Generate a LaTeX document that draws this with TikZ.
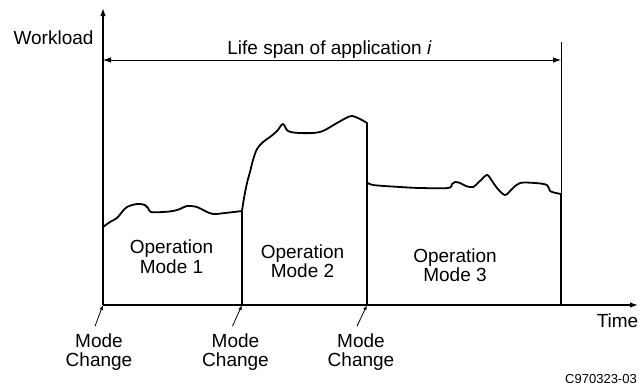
\documentclass[tikz,border=0pt]{standalone}
\usepackage{fontspec}
\setmainfont{Liberation Sans}
\usetikzlibrary{arrows.meta}

\begin{document}
\begin{tikzpicture}[
  x=1pt, y=-1pt,
  >={Latex[length=8pt, width=5.5pt]},
  axis/.style={->, line width=1.3pt},
  load/.style={line width=1.8pt, line join=round},
  span/.style={<->, line width=0.8pt},
  lbl/.style={font=\fontsize{19}{19.5}\selectfont, align=center, inner sep=0pt},
  tag/.style={-{Latex[length=5pt, width=3.5pt]}, line width=0.8pt},
]
\useasboundingbox (0,0) rectangle (639,388);

% Axes
\coordinate (o) at (103,305);
\coordinate (ytop) at (103,8);
\coordinate (xend) at (638,305);
\draw[axis] (o) -- (ytop);
\draw[axis] (o) -- (xend);

\node[lbl, anchor=base] (wl) at (53.5,44) {Workload};
\node[lbl, anchor=base east] (tm) at (638.5,327) {Time};

% =============================================
% Life span of the application
% =============================================
\coordinate (spanL) at (103,60);
\coordinate (spanR) at (561,60);
\coordinate (spanTop) at (561,42);
\coordinate (lend) at (561,194);
\draw[span] (spanL) -- (spanR);
\draw[line width=0.8pt] (spanTop) -- (lend);
\node[lbl, anchor=base] (life) at (329.5,54) {Life span of application \textit{i}};

% =============================================
% Workload curve, one piece per mode
% =============================================
\coordinate (m1) at (103,305);
\coordinate (m2) at (242,305);
\coordinate (m3) at (367,305);
\coordinate (fin) at (561,305);

% mode 1
\draw[load] plot[smooth, tension=0.55] coordinates {
  (103,227) (110,222) (117,218) (122,212) (127,207) (137,204)
  (145,205) (148,208) (151,212) (163,212) (173,211) (180,209)
  (187,206) (197,207) (205,211) (213,214) (225,213) (242,211)}
  -- (m2);

% mode 2
\draw[load] plot[smooth, tension=0.55] coordinates {
  (242,211) (244,198) (247,183) (250,172) (253,160) (257,149)
  (263,142) (270,137) (277,131) (283,124) (288,131) (300,133)
  (320,132) (337,123) (346,118) (352,116) (360,119) (367,123)}
  -- (m3);

% mode 3
\draw[load] plot[smooth, tension=0.55] coordinates {
  (367,182) (373,185) (400,187) (420,188) (448,188) (452,184)
  (455,182) (460,183) (466,186) (473,187) (480,181) (487,175)
  (492,181) (497,188) (505,195) (512,189) (520,183) (535,183)
  (547,185) (550,191) (556,193) (561,194)}
  -- (fin);

% Mode labels
\node[lbl] (op1) at (171.5,256.5) {Operation\\Mode 1};
\node[lbl] (op2) at (302.5,261) {Operation\\Mode 2};
\node[lbl] (op3) at (455,265) {Operation\\Mode 3};

% Mode change markers
\node[lbl] (mc1) at (99,352) {Mode\\Change};
\node[lbl] (mc2) at (235.5,352) {Mode\\Change};
\node[lbl] (mc3) at (361,352) {Mode\\Change};

\draw[tag] ([xshift=-4pt, yshift=7pt]mc1.north) -- (m1);
\draw[tag] ([xshift=-3pt, yshift=7pt]mc2.north) -- (m2);
\draw[tag] ([xshift=-4pt, yshift=7pt]mc3.north) -- (m3);

% Figure number
\node[font=\fontsize{13}{15}\selectfont, anchor=base, inner sep=0pt] (fig) at (601,383) {C970323-03};

\end{tikzpicture}
\end{document}
